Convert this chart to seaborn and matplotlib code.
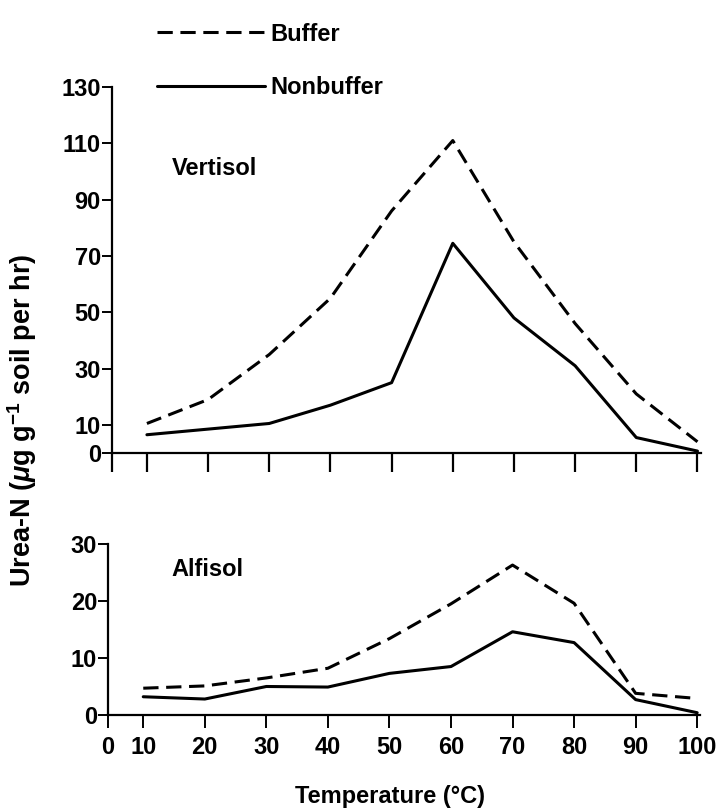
import numpy as np
import pandas as pd
import seaborn as sns
import matplotlib.pyplot as plt

# values
temps = [10, 20, 30, 40, 50, 60, 70, 80, 90, 100]
vert_buffer = [10.5, 19, 35, 55, 86, 111, 75, 46, 21, 4]
vert_nonbuffer = [6.5, 8.5, 10.5, 17, 25, 74.5, 48, 31, 5.5, 0.7]
alf_buffer = [4.7, 5.1, 6.5, 8.2, 13.4, 19.5, 26.3, 19.6, 3.8, 2.9]
alf_nonbuffer = [3.2, 2.8, 5.0, 4.9, 7.3, 8.5, 14.6, 12.7, 2.7, 0.4]

x_ticks = [0, 10, 20, 30, 40, 50, 60, 70, 80, 90, 100]
vert_yticks = [0, 10, 30, 50, 70, 90, 110, 130]
alf_yticks = [0, 10, 20, 30]
treatments = ["Buffer", "Nonbuffer"]

sns.set_theme(style="ticks")
plt.rcParams["font.family"] = ["Liberation Sans", "DejaVu Sans"]
plt.rcParams["font.weight"] = "bold"
for k in ["text.color", "axes.labelcolor", "xtick.color", "ytick.color"]:
    plt.rcParams[k] = "black"
plt.rcParams["mathtext.fontset"] = "custom"
plt.rcParams["mathtext.rm"] = "Liberation Sans:bold"
plt.rcParams["mathtext.it"] = "Liberation Sans:bold:italic"
plt.rcParams["mathtext.bf"] = "Liberation Sans:bold"


def make_df(buf, nonbuf):
    return pd.DataFrame({
        "temp": temps * 2,
        "val": buf + nonbuf,
        "treat": ["Buffer"] * len(temps) + ["Nonbuffer"] * len(temps),
    })


# the 0-10 gap on the original x axis is compressed
K = 0.571


def fwd(x):
    x = np.asarray(x, dtype=float)
    return np.where(x < 10, x * K, 10 * K + (x - 10))


def inv(u):
    u = np.asarray(u, dtype=float)
    return np.where(u < 10 * K, u / K, u - 10 * K + 10)


fig = plt.figure(figsize=(7.16, 8.09), dpi=100)
ax1 = fig.add_axes([0.1564, 0.440, 0.822, 0.4524])
ax2 = fig.add_axes([0.1510, 0.1162, 0.827, 0.2114])

dashes = {"Buffer": (5, 2.5), "Nonbuffer": ""}
FS = 17

for ax, buf, nonbuf, yt, ymax in [(ax1, vert_buffer, vert_nonbuffer, vert_yticks, 130),
                                   (ax2, alf_buffer, alf_nonbuffer, alf_yticks, 30)]:
    sns.lineplot(data=make_df(buf, nonbuf), x="temp", y="val", style="treat",
                 style_order=treatments, dashes=dashes, color="black",
                 linewidth=2.2, legend=False, ax=ax)
    ax.set_xscale("function", functions=(fwd, inv))
    ax.set_xlim(0, 100.5)
    ax.set_ylim(0, ymax)
    ax.set_xticks(x_ticks)
    ax.set_yticks(yt)
    ax.set_yticklabels([str(v) for v in yt], fontsize=FS, fontweight="bold")
    ax.set_xlabel("")
    ax.set_ylabel("")
    ax.minorticks_off()
    sns.despine(ax=ax)
    for s in ["left", "bottom"]:
        ax.spines[s].set_linewidth(1.6)
        ax.spines[s].set_color("black")
    ax.tick_params(axis="y", length=7, width=1.4, pad=1, colors="black")

ax1.tick_params(axis="x", length=14, width=1.6, labelbottom=False)
ax2.tick_params(axis="x", length=9, width=1.4, pad=6, labelsize=FS)
ax2.set_xticklabels([str(v) for v in x_ticks], fontweight="bold")

ax1.text(14, 101, "Vertisol", fontsize=FS, fontweight="bold", va="center")
ax2.text(14.5, 25.5, "Alfisol", fontsize=FS, fontweight="bold", va="center")

leg = ax1.legend(handles=ax1.lines[:2], labels=treatments, loc="upper left",
                 bbox_to_anchor=(0.219, 0.972), bbox_transform=fig.transFigure,
                 frameon=False, fontsize=FS, handlelength=4.6, handletextpad=0.2,
                 labelspacing=1.3, borderpad=0, borderaxespad=0)
for t in leg.get_texts():
    t.set_fontweight("bold")

fig.text(0.031, 0.481, r"Urea-N ($\mu$g g$^{-1}$ soil per hr)", rotation=90,
         ha="center", va="center", fontsize=19.5, fontweight="bold")
fig.text(0.545, 0.016, "Temperature (°C)", ha="center", va="center",
         fontsize=FS, fontweight="bold")

fig.savefig("out.png", dpi=100)
